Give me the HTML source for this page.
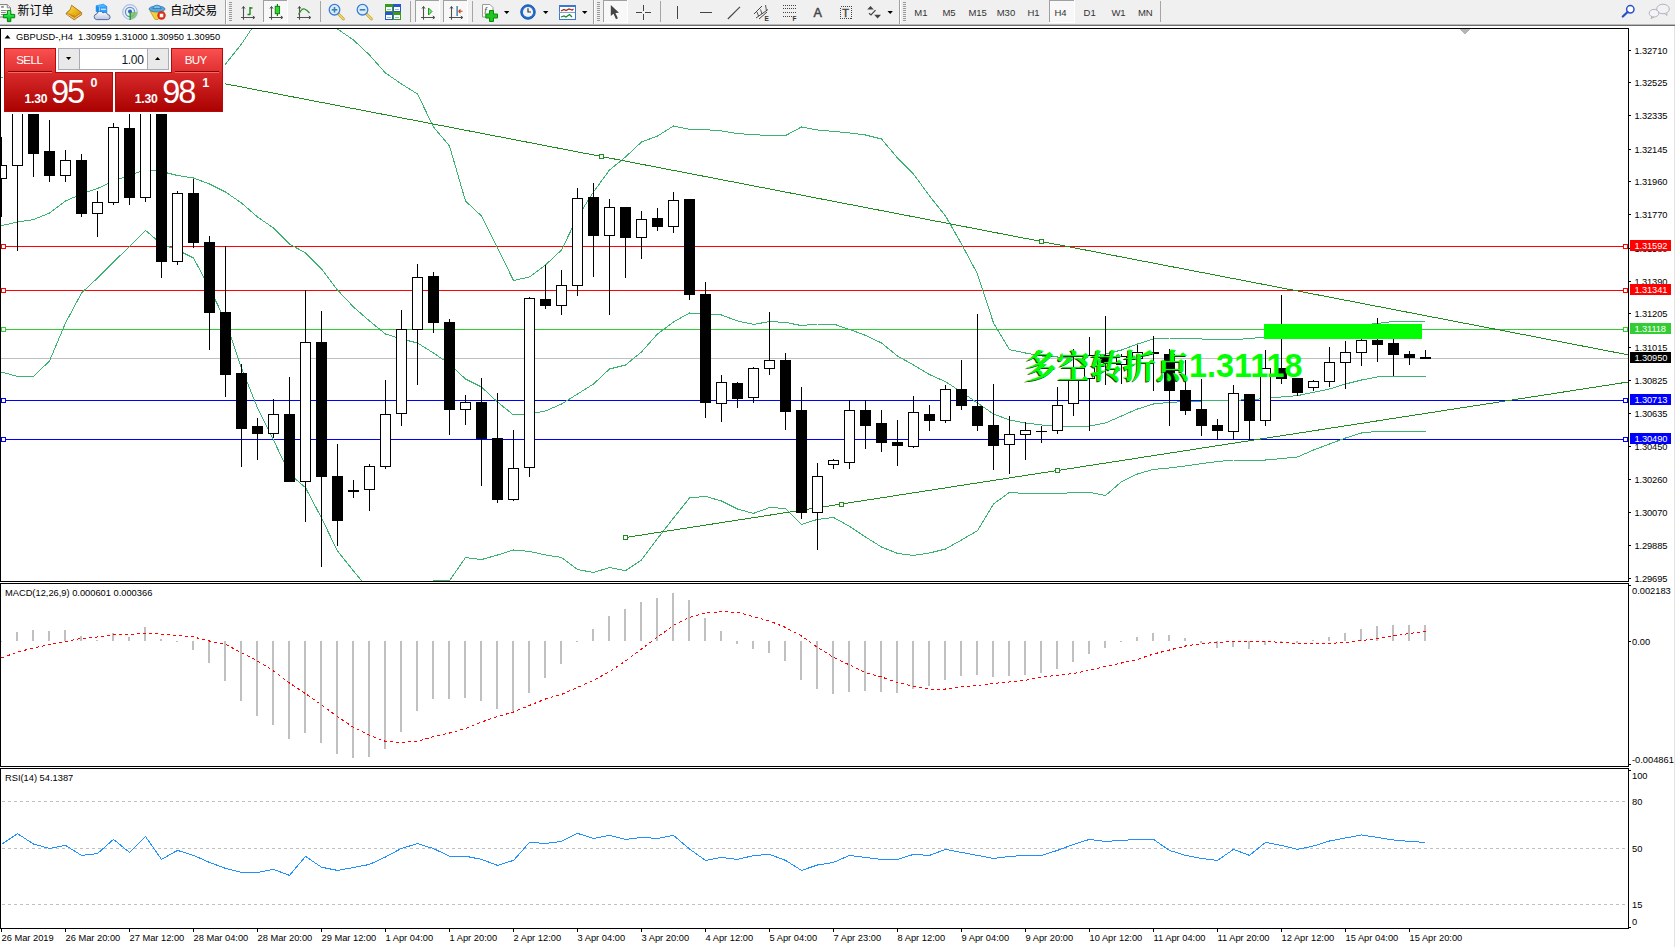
<!DOCTYPE html>
<html><head><meta charset="utf-8"><title>GBPUSD-,H4</title>
<style>
html,body{margin:0;padding:0;background:#fff;overflow:hidden}
body{width:1675px;height:947px;position:relative;font-family:'Liberation Sans','Noto Sans CJK SC',sans-serif}
svg{position:absolute;left:0;top:0;display:block}
text{font-family:'Liberation Sans','Noto Sans CJK SC',sans-serif;font-size:9.3px;fill:#000}
.pl text{letter-spacing:-0.12px}
.tag{fill:#fff}
.tf text{font-size:9.5px;fill:#333}
.cj{font-family:'Liberation Sans','Noto Sans CJK SC',sans-serif;font-size:12px;fill:#000}
</style></head><body>
<svg width="1675" height="947" viewBox="0 0 1675 947" shape-rendering="crispEdges">
<defs>
<clipPath id="cm"><rect x="1" y="29" width="1627" height="552"/></clipPath>
<clipPath id="c2"><rect x="1" y="584" width="1627" height="182"/></clipPath>
<clipPath id="c3"><rect x="1" y="769" width="1627" height="159"/></clipPath>
<linearGradient id="gt" x1="0" y1="0" x2="0" y2="1"><stop offset="0" stop-color="#fb5151"/><stop offset="1" stop-color="#de2f2f"/></linearGradient>
<linearGradient id="gb" x1="0" y1="0" x2="0" y2="1"><stop offset="0" stop-color="#da2b2b"/><stop offset="1" stop-color="#a90000"/></linearGradient>
</defs>
<rect x="0" y="0" width="1675" height="947" fill="#fff"/>

<g id="toolbar">
<rect x="0" y="0" width="1675" height="24" fill="#f0f0f0"/>
<rect x="0" y="24" width="1675" height="1" fill="#b9b9b9"/>
<rect x="0" y="25" width="1675" height="1" fill="#6d6d6d"/>
<g shape-rendering="auto">
<defs><linearGradient id="gp" x1="0" y1="0" x2="0" y2="1"><stop offset="0" stop-color="#7dff8a"/><stop offset="0.5" stop-color="#12e032"/><stop offset="1" stop-color="#0fb81f"/></linearGradient><linearGradient id="gold" x1="0" y1="0" x2="1" y2="1"><stop offset="0" stop-color="#fbe36a"/><stop offset="0.5" stop-color="#eebc1c"/><stop offset="1" stop-color="#d99a12"/></linearGradient><linearGradient id="cl" x1="0" y1="0" x2="0" y2="1"><stop offset="0" stop-color="#ffffff"/><stop offset="1" stop-color="#b9c6de"/></linearGradient></defs>
<g><path d="M-1,4.6 H7.3 L10.5,7.8 V17 H-1 Z" fill="#fdfdfd" stroke="#7a7a7a" stroke-width="1"/><path d="M7.3,4.6 V7.8 H10.5" fill="#e8e8e8" stroke="#7a7a7a" stroke-width="0.9"/>
<rect x="1.1" y="6.2" width="2.7" height="1.5" fill="#777"/><rect x="1" y="10" width="5.6" height="1" fill="#8a8a8a"/><rect x="1" y="12" width="4.8" height="1" fill="#8a8a8a"/><rect x="1" y="14" width="3" height="1" fill="#8a8a8a"/>
<path d="M7.4,10.6 H10.8 V14.4 H14.7 V17.8 H10.8 V21.6 H7.4 V17.8 H3.4 V14.4 H7.4 Z" fill="url(#gp)" stroke="#0a7d0a" stroke-width="1"/></g>
<text class="cj" x="17.6" y="14.6">新订单</text>
<g><path d="M71.6,5.3 L81.6,12.6 L81.7,14.6 L74.2,19.8 L66.3,14.2 L66.3,13 L70.2,9.6 Z" fill="#c98a14" stroke="#a46a0c" stroke-width="0.8" stroke-linejoin="round"/><path d="M71.8,6 L80.3,12.3 L75.6,16 L67.4,12.9 L70.6,9.8 Z" fill="url(#gold)"/><path d="M67,14 L74.3,18.6 L81.2,13.6" fill="none" stroke="#f3d98a" stroke-width="0.9"/></g>
<g><path d="M96.2,5.8 L103.3,4.2 L106.8,6.4 L106.8,12.6 L99.4,12.8 L96.2,11.6 Z" fill="#0f8ef2" stroke="#0a78d8" stroke-width="0.6"/><path d="M96.2,5.8 L103.3,4.2 L106.8,6.4 L99.4,7.4 Z" fill="#4db4ff"/><path d="M99.4,7.4 L106.8,6.4 L106.8,12.6 L99.4,12.8 Z" fill="#2fa2ff"/><path d="M99.4,7.4 V12.8" stroke="#d8efff" stroke-width="0.7"/><rect x="101" y="8.7" width="4.8" height="1.1" fill="#e8f6ff"/><path d="M96.4,19.6 A2.9,2.9 0 0 1 96.8,13.9 A3.4,3.4 0 0 1 103,12.9 A2.9,2.9 0 0 1 107.6,14.6 A2.5,2.5 0 0 1 107.6,19.6 Z" fill="url(#cl)" stroke="#3f5f9e" stroke-width="0.9"/></g>
<g fill="none"><circle cx="130" cy="12" r="7.3" stroke="#a8c0e8" stroke-width="1.2"/><circle cx="130" cy="12" r="4.6" stroke="#5f8fd8" stroke-width="1.3"/><path d="M130,12 L137.3,12 A7.3,7.3 0 0 1 130,19.3 Z" fill="#7dbf6a" stroke="none" opacity="0.85"/><circle cx="130" cy="11.5" r="2" fill="#2a62c8"/><rect x="129.5" y="12" width="1.4" height="8" fill="#22a022"/></g>
<g><path d="M150,11 L163.5,11 L158,19.5 L155,19.5 Z" fill="#f2cf3a" stroke="#c49a12" stroke-width="0.8"/><ellipse cx="157" cy="9" rx="8" ry="3" fill="#58a6dc" stroke="#2f78b4" stroke-width="0.8"/><path d="M152.8,8.5 A4.3,4.3 0 0 1 161.2,8.5 Z" fill="#7cc0ec" stroke="#2f78b4" stroke-width="0.8"/><circle cx="161.5" cy="15.5" r="4.2" fill="#e02810"/><rect x="159.7" y="13.7" width="3.6" height="3.6" fill="#fff"/></g>
<text class="cj" x="170.2" y="14.6" style="letter-spacing:-0.3px">自动交易</text>
<rect x="225" y="0" width="1" height="24" fill="#a0a0a0" shape-rendering="crispEdges"/><rect x="226" y="0" width="1" height="24" fill="#fff" shape-rendering="crispEdges"/>
<rect x="229" y="2" width="3" height="1" fill="#9a9a9a" shape-rendering="crispEdges"/>
<rect x="229" y="4" width="3" height="1" fill="#9a9a9a" shape-rendering="crispEdges"/>
<rect x="229" y="6" width="3" height="1" fill="#9a9a9a" shape-rendering="crispEdges"/>
<rect x="229" y="8" width="3" height="1" fill="#9a9a9a" shape-rendering="crispEdges"/>
<rect x="229" y="10" width="3" height="1" fill="#9a9a9a" shape-rendering="crispEdges"/>
<rect x="229" y="12" width="3" height="1" fill="#9a9a9a" shape-rendering="crispEdges"/>
<rect x="229" y="14" width="3" height="1" fill="#9a9a9a" shape-rendering="crispEdges"/>
<rect x="229" y="16" width="3" height="1" fill="#9a9a9a" shape-rendering="crispEdges"/>
<rect x="229" y="18" width="3" height="1" fill="#9a9a9a" shape-rendering="crispEdges"/>
<rect x="229" y="20" width="3" height="1" fill="#9a9a9a" shape-rendering="crispEdges"/>
<g fill="none" stroke="#505050" stroke-width="1.1"><path d="M243.5,19.8 V6.8 M241,17.5 H254.6"/><path d="M242,8.6 L243.5,6.4 L245,8.6 M252.8,16 L254.9,17.5 L252.8,19" stroke-width="1"/></g>
<path d="M250,7 V15 M250,8 H252.5 M247.5,14.5 H250" fill="none" stroke="#1a8a1a" stroke-width="1.4"/>
<rect x="263" y="0" width="24" height="22" fill="#f8f8f8" shape-rendering="crispEdges"/>
<rect x="263" y="0" width="24" height="1" fill="#a0a0a0" shape-rendering="crispEdges"/><rect x="263" y="0" width="1" height="22" fill="#a0a0a0" shape-rendering="crispEdges"/>
<rect x="287" y="0" width="1" height="23" fill="#fff" shape-rendering="crispEdges"/><rect x="263" y="22" width="25" height="1" fill="#fff" shape-rendering="crispEdges"/>
<g fill="none" stroke="#505050" stroke-width="1.1"><path d="M271.5,19.8 V6.8 M269,17.5 H282.6"/><path d="M270,8.6 L271.5,6.4 L273,8.6 M280.8,16 L282.9,17.5 L280.8,19" stroke-width="1"/></g>
<rect x="276.8" y="4" width="1.2" height="12" fill="#0e7a0e"/><rect x="275.2" y="6.3" width="4.4" height="7.4" fill="#32d832" stroke="#0e7a0e" stroke-width="0.9"/>
<g fill="none" stroke="#505050" stroke-width="1.1"><path d="M299.5,19.8 V6.8 M297,17.5 H310.6"/><path d="M298,8.6 L299.5,6.4 L301,8.6 M308.8,16 L310.9,17.5 L308.8,19" stroke-width="1"/></g>
<path d="M298.5,14.5 Q302,8 304.5,9 T309.5,13" fill="none" stroke="#2a8a2a" stroke-width="1.2"/>
<rect x="320" y="1" width="1" height="21" fill="#a5a5a5" shape-rendering="crispEdges"/>
<g><path d="M338.0,13.5 L343.5,19" stroke="#c8a028" stroke-width="2.6" stroke-linecap="round"/><path d="M338.0,13.5 L343.5,19" stroke="#f2dc78" stroke-width="1.1" stroke-linecap="round"/><circle cx="334.5" cy="9.7" r="5.3" fill="#dcecfa" stroke="#3c7fd0" stroke-width="1.3"/><rect x="331.7" y="9" width="5.6" height="1.6" fill="#3f80b4"/><rect x="333.7" y="7" width="1.6" height="5.6" fill="#3f80b4"/></g>
<g><path d="M366.0,13.5 L371.5,19" stroke="#c8a028" stroke-width="2.6" stroke-linecap="round"/><path d="M366.0,13.5 L371.5,19" stroke="#f2dc78" stroke-width="1.1" stroke-linecap="round"/><circle cx="362.5" cy="9.7" r="5.3" fill="#dcecfa" stroke="#3c7fd0" stroke-width="1.3"/><rect x="359.7" y="9" width="5.6" height="1.6" fill="#3f80b4"/></g>
<g shape-rendering="crispEdges"><rect x="385" y="4" width="8" height="8" fill="#3a9a1e"/><rect x="393" y="4" width="8" height="8" fill="#2858c8"/><rect x="385" y="12" width="8" height="8" fill="#2858c8"/><rect x="393" y="12" width="8" height="8" fill="#3a9a1e"/>
<rect x="386" y="7" width="6" height="4" fill="#fff"/><rect x="387" y="8.5" width="4" height="1" fill="#9ab8e8"/>
<rect x="394" y="7" width="6" height="4" fill="#fff"/><rect x="395" y="8.5" width="4" height="1" fill="#9ab8e8"/>
<rect x="386" y="15" width="6" height="4" fill="#fff"/><rect x="387" y="16.5" width="4" height="1" fill="#9ab8e8"/>
<rect x="394" y="15" width="6" height="4" fill="#fff"/><rect x="395" y="16.5" width="4" height="1" fill="#9ab8e8"/>
</g>
<rect x="410" y="1" width="1" height="21" fill="#a5a5a5" shape-rendering="crispEdges"/>
<rect x="415" y="0" width="24" height="22" fill="#f8f8f8" shape-rendering="crispEdges"/>
<rect x="415" y="0" width="24" height="1" fill="#a0a0a0" shape-rendering="crispEdges"/><rect x="415" y="0" width="1" height="22" fill="#a0a0a0" shape-rendering="crispEdges"/>
<rect x="439" y="0" width="1" height="23" fill="#fff" shape-rendering="crispEdges"/><rect x="415" y="22" width="25" height="1" fill="#fff" shape-rendering="crispEdges"/>
<g fill="none" stroke="#505050" stroke-width="1.1"><path d="M423.5,19.8 V6.8 M421,17.5 H434.6"/><path d="M422,8.6 L423.5,6.4 L425,8.6 M432.8,16 L434.9,17.5 L432.8,19" stroke-width="1"/></g>
<path d="M428.5,8 L432,11.5 L428.5,15 Z" fill="#7fe07f" stroke="#1a9a1a" stroke-width="1"/>
<rect x="443" y="0" width="24" height="22" fill="#f8f8f8" shape-rendering="crispEdges"/>
<rect x="443" y="0" width="24" height="1" fill="#a0a0a0" shape-rendering="crispEdges"/><rect x="443" y="0" width="1" height="22" fill="#a0a0a0" shape-rendering="crispEdges"/>
<rect x="467" y="0" width="1" height="23" fill="#fff" shape-rendering="crispEdges"/><rect x="443" y="22" width="25" height="1" fill="#fff" shape-rendering="crispEdges"/>
<g fill="none" stroke="#505050" stroke-width="1.1"><path d="M451.5,19.8 V6.8 M449,17.5 H462.6"/><path d="M450,8.6 L451.5,6.4 L453,8.6 M460.8,16 L462.9,17.5 L460.8,19" stroke-width="1"/></g>
<rect x="456.5" y="6" width="1.2" height="10" fill="#1a6a9a"/><path d="M458.5,11.3 L462.5,11.3 M458.5,11.3 L460.5,9.5 M458.5,11.3 L460.5,13.1" stroke="#c83c10" stroke-width="1.1" fill="none"/>
<rect x="472" y="1" width="1" height="21" fill="#a5a5a5" shape-rendering="crispEdges"/>
<g><path d="M482.5,4.5 H490 L493,7.5 V17 H482.5 Z" fill="#fcfcfc" stroke="#9a9a9a" stroke-width="1"/><text x="484.2" y="13.5" style="font-size:9px;font-style:italic;fill:#554">f</text><path d="M489.5,10.5 H493.5 V14 H497.5 V18 H493.5 V21.5 H489.5 V18 H485.8 V14 H489.5 Z" fill="#1ec71e" stroke="#0a8a0a" stroke-width="1"/></g>
<path d="M504,11 h5.4 l-2.7,3 z" fill="#000"/>
<g><circle cx="528" cy="12" r="7.3" fill="#1f6fd0" stroke="#0d4a9a" stroke-width="0.8"/><circle cx="528" cy="12" r="5.1" fill="#f4f4f4"/><path d="M528,8.2 V12 H531" fill="none" stroke="#333" stroke-width="1.2"/></g>
<path d="M543,11 h5.4 l-2.7,3 z" fill="#000"/>
<g shape-rendering="crispEdges"><rect x="559" y="5" width="16" height="14" fill="#fff" stroke="#3b78d0" stroke-width="1"/><rect x="559" y="5" width="16" height="2" fill="#3b78d0"/><rect x="559" y="12" width="16" height="1" fill="#7aa0dc"/></g><path d="M561,11 L564,9.5 L566,10.5 L569,9 L572,10 L573.5,9" fill="none" stroke="#a02810" stroke-width="1.3"/><path d="M561,17 L564,16 L566,17 L569.5,14.5 L572,17" fill="none" stroke="#1a8a2a" stroke-width="1.3"/>
<path d="M582,11 h5.4 l-2.7,3 z" fill="#000"/>
<rect x="593" y="0" width="1" height="24" fill="#a0a0a0" shape-rendering="crispEdges"/><rect x="594" y="0" width="1" height="24" fill="#fff" shape-rendering="crispEdges"/>
<rect x="597" y="2" width="3" height="1" fill="#9a9a9a" shape-rendering="crispEdges"/>
<rect x="597" y="4" width="3" height="1" fill="#9a9a9a" shape-rendering="crispEdges"/>
<rect x="597" y="6" width="3" height="1" fill="#9a9a9a" shape-rendering="crispEdges"/>
<rect x="597" y="8" width="3" height="1" fill="#9a9a9a" shape-rendering="crispEdges"/>
<rect x="597" y="10" width="3" height="1" fill="#9a9a9a" shape-rendering="crispEdges"/>
<rect x="597" y="12" width="3" height="1" fill="#9a9a9a" shape-rendering="crispEdges"/>
<rect x="597" y="14" width="3" height="1" fill="#9a9a9a" shape-rendering="crispEdges"/>
<rect x="597" y="16" width="3" height="1" fill="#9a9a9a" shape-rendering="crispEdges"/>
<rect x="597" y="18" width="3" height="1" fill="#9a9a9a" shape-rendering="crispEdges"/>
<rect x="597" y="20" width="3" height="1" fill="#9a9a9a" shape-rendering="crispEdges"/>
<rect x="603" y="0" width="24" height="22" fill="#f8f8f8" shape-rendering="crispEdges"/>
<rect x="603" y="0" width="24" height="1" fill="#a0a0a0" shape-rendering="crispEdges"/><rect x="603" y="0" width="1" height="22" fill="#a0a0a0" shape-rendering="crispEdges"/>
<rect x="627" y="0" width="1" height="23" fill="#fff" shape-rendering="crispEdges"/><rect x="603" y="22" width="25" height="1" fill="#fff" shape-rendering="crispEdges"/>
<path d="M610.8,5 L610.8,16 L613.5,13.8 L616,19.2 L617.9,18.3 L615.4,13 L619,12.7 Z" fill="#444"/>
<g shape-rendering="crispEdges" fill="#444"><rect x="643" y="5" width="1" height="6"/><rect x="643" y="14" width="1" height="6"/><rect x="636" y="12" width="6" height="1"/><rect x="645" y="12" width="6" height="1"/></g>
<rect x="660" y="1" width="1" height="21" fill="#a5a5a5" shape-rendering="crispEdges"/>
<rect x="677" y="6" width="1" height="13" fill="#444" shape-rendering="crispEdges"/>
<rect x="700" y="12" width="12" height="1" fill="#444" shape-rendering="crispEdges"/>
<path d="M727.8,19 L740,6.8" stroke="#444" stroke-width="1.1"/>
<g stroke="#444" stroke-width="1" fill="none"><path d="M754,14 L762,6 M756,18 L768,9.5 M759,19 L767,12"/><path d="M757,12 L758.5,16 M760.5,9.5 L762,14 M765.5,5 L766.5,11" stroke-width="0.9"/></g><text x="764.6" y="20.6" style="font-size:6.5px;font-weight:bold;fill:#333">E</text>
<line x1="783" y1="5.5" x2="796" y2="5.5" stroke="#444" stroke-width="1" stroke-dasharray="1,1" shape-rendering="crispEdges"/>
<line x1="783" y1="8.5" x2="796" y2="8.5" stroke="#444" stroke-width="1" stroke-dasharray="1,1" shape-rendering="crispEdges"/>
<line x1="783" y1="12.5" x2="796" y2="12.5" stroke="#444" stroke-width="1" stroke-dasharray="1,1" shape-rendering="crispEdges"/>
<line x1="783" y1="16.5" x2="792" y2="16.5" stroke="#444" stroke-width="1" stroke-dasharray="1,1" shape-rendering="crispEdges"/>
<text x="792.6" y="20.6" style="font-size:6.5px;font-weight:bold;fill:#333">F</text>
<text x="813.4" y="17" style="font-size:12.6px;fill:#444;stroke:#444;stroke-width:0.45px">A</text>
<rect x="840.5" y="6.5" width="11" height="12" fill="none" stroke="#444" stroke-width="1" stroke-dasharray="1,1" shape-rendering="crispEdges"/><text x="842.3" y="16.6" style="font-size:11px;fill:#444;stroke:#444;stroke-width:0.4px">T</text>
<g fill="#444"><path d="M867.2,9.5 L870.5,6 L873.8,9.5 Z"/><path d="M874.2,14.8 L881,14.8 L877.6,18.5 Z"/><path d="M869,13.2 L871,15 L875.5,10.2" fill="none" stroke="#444" stroke-width="1.2"/></g>
<path d="M887.5,11 h5.4 l-2.7,3 z" fill="#000"/>
<rect x="899" y="0" width="1" height="24" fill="#a0a0a0" shape-rendering="crispEdges"/><rect x="900" y="0" width="1" height="24" fill="#fff" shape-rendering="crispEdges"/>
<rect x="903" y="2" width="3" height="1" fill="#9a9a9a" shape-rendering="crispEdges"/>
<rect x="903" y="4" width="3" height="1" fill="#9a9a9a" shape-rendering="crispEdges"/>
<rect x="903" y="6" width="3" height="1" fill="#9a9a9a" shape-rendering="crispEdges"/>
<rect x="903" y="8" width="3" height="1" fill="#9a9a9a" shape-rendering="crispEdges"/>
<rect x="903" y="10" width="3" height="1" fill="#9a9a9a" shape-rendering="crispEdges"/>
<rect x="903" y="12" width="3" height="1" fill="#9a9a9a" shape-rendering="crispEdges"/>
<rect x="903" y="14" width="3" height="1" fill="#9a9a9a" shape-rendering="crispEdges"/>
<rect x="903" y="16" width="3" height="1" fill="#9a9a9a" shape-rendering="crispEdges"/>
<rect x="903" y="18" width="3" height="1" fill="#9a9a9a" shape-rendering="crispEdges"/>
<rect x="903" y="20" width="3" height="1" fill="#9a9a9a" shape-rendering="crispEdges"/>
<g class="tf">
<rect x="1049" y="0" width="25" height="22" fill="#f8f8f8" shape-rendering="crispEdges"/>
<rect x="1049" y="0" width="25" height="1" fill="#a0a0a0" shape-rendering="crispEdges"/><rect x="1049" y="0" width="1" height="22" fill="#a0a0a0" shape-rendering="crispEdges"/>
<rect x="1074" y="0" width="1" height="23" fill="#fff" shape-rendering="crispEdges"/><rect x="1049" y="22" width="26" height="1" fill="#fff" shape-rendering="crispEdges"/>
<text x="914.3" y="16">M1</text>
<text x="942.4" y="16">M5</text>
<text x="968.4" y="16">M15</text>
<text x="996.7" y="16">M30</text>
<text x="1027.5" y="16">H1</text>
<text x="1054.4" y="16">H4</text>
<text x="1083.6" y="16">D1</text>
<text x="1111.4" y="16">W1</text>
<text x="1137.9" y="16">MN</text>
</g>
<rect x="1160" y="1" width="1" height="21" fill="#a5a5a5" shape-rendering="crispEdges"/>
<g><circle cx="1630.3" cy="9.3" r="3.7" fill="#fff" stroke="#2a50c8" stroke-width="1.5"/><path d="M1627.6,12 L1622.8,16.5" stroke="#2a50c8" stroke-width="2.3" stroke-linecap="round"/></g>
<g><ellipse cx="1663" cy="9" rx="6.3" ry="4.8" fill="#f2f2f6" stroke="#aaaab4" stroke-width="0.9"/><path d="M1664.5,13.2 L1666.8,15.6 L1667,13" fill="#ddd" stroke="#999" stroke-width="0.6"/><ellipse cx="1654" cy="13.2" rx="4.8" ry="3.8" fill="#f4f4f8" stroke="#aaaab4" stroke-width="0.9"/><path d="M1652,16.5 L1651,18.8 L1654,16.9" fill="#ddd" stroke="#999" stroke-width="0.6"/></g>
</g>
</g>
<g id="main">
<g clip-path="url(#cm)" fill="none">
<rect x="1" y="246" width="1627" height="1" fill="#ff0000"/>
<rect x="1" y="290" width="1627" height="1" fill="#ff0000"/>
<rect x="1" y="329" width="1627" height="1" fill="#32cd32"/>
<rect x="1" y="358" width="1627" height="1" fill="#c0c0c0"/>
<rect x="1" y="400" width="1627" height="1" fill="#0000ff"/>
<rect x="1" y="439" width="1627" height="1" fill="#0000ff"/>
<rect x="1.5" y="244.5" width="4" height="4" fill="#fff" stroke="#ff0000" stroke-width="1"/>
<rect x="1.5" y="288.5" width="4" height="4" fill="#fff" stroke="#ff0000" stroke-width="1"/>
<rect x="1.5" y="327.5" width="4" height="4" fill="#fff" stroke="#32cd32" stroke-width="1"/>
<rect x="1.5" y="398.5" width="4" height="4" fill="#fff" stroke="#0000ff" stroke-width="1"/>
<rect x="1.5" y="437.5" width="4" height="4" fill="#fff" stroke="#0000ff" stroke-width="1"/>
<polyline points="1.5,78.0 17.5,68.0 33.5,63.0 49.5,65.0 65.5,79.0 81.5,95.0 97.5,99.0 113.5,100.0 129.5,104.0 145.5,108.0 161.5,99.0 177.5,101.0 193.5,98.0 209.5,80.0 225.5,64.0 241.5,44.0 257.5,20.0 273.5,0.0 289.5,-10.0 305.5,-10.0 321.5,0.0 337.5,29.0 353.5,40.0 369.5,55.0 385.5,73.0 401.5,84.0 417.5,94.0 433.5,127.0 449.5,146.0 465.5,201.0 481.5,216.0 497.5,248.0 513.5,280.5 529.5,277.0 545.5,265.0 561.5,250.0 577.5,217.0 593.5,192.0 609.5,170.0 625.5,157.0 641.5,142.0 657.5,136.0 673.5,126.0 689.5,129.4 705.5,129.6 721.5,131.0 737.5,133.6 753.5,134.6 769.5,135.6 785.5,135.6 801.5,127.0 817.5,130.0 833.5,131.4 849.5,133.0 865.5,135.0 881.5,139.0 897.5,158.0 913.5,174.0 929.5,196.0 945.5,216.0 961.5,244.0 977.5,274.0 993.5,323.0 1009.5,349.6 1025.5,353.0 1041.5,356.0 1057.5,357.0 1073.5,357.0 1089.5,356.0 1105.5,354.0 1121.5,350.0 1137.5,344.0 1153.5,339.0 1169.5,338.0 1185.5,338.0 1201.5,339.0 1217.5,340.0 1233.5,339.6 1249.5,338.6 1265.5,337.0 1281.5,335.0 1297.5,333.0 1313.5,331.0 1329.5,329.0 1345.5,327.0 1361.5,325.0 1377.5,323.5 1393.5,321.4 1409.5,322.0 1425.5,321.0" stroke="#3cb371" stroke-width="1" fill="none" />
<polyline points="1.5,225.6 17.5,222.0 33.5,219.6 49.5,213.0 65.5,201.0 81.5,194.0 97.5,188.5 113.5,181.0 129.5,175.5 145.5,169.5 161.5,171.5 177.5,175.5 193.5,178.0 209.5,184.0 225.5,192.0 241.5,203.0 257.5,217.0 273.5,228.0 289.5,244.0 305.5,253.0 321.5,269.0 337.5,290.0 353.5,307.0 369.5,321.0 385.5,334.0 401.5,339.0 417.5,343.0 433.5,353.0 449.5,364.0 465.5,379.0 481.5,387.0 497.5,402.0 513.5,415.0 529.5,414.0 545.5,411.0 561.5,404.0 577.5,394.0 593.5,384.0 609.5,369.0 625.5,365.0 641.5,352.0 657.5,334.0 673.5,322.0 689.5,313.0 705.5,313.6 721.5,315.0 737.5,321.0 753.5,324.4 769.5,321.6 785.5,322.4 801.5,325.6 817.5,324.0 833.5,324.0 849.5,329.4 865.5,335.4 881.5,343.0 897.5,356.0 913.5,365.0 929.5,374.6 945.5,381.6 961.5,392.0 977.5,403.0 993.5,414.0 1009.5,420.0 1025.5,423.0 1041.5,425.0 1057.5,426.0 1073.5,426.4 1089.5,426.0 1105.5,423.0 1121.5,416.0 1137.5,409.0 1153.5,404.0 1169.5,402.4 1185.5,401.6 1201.5,401.0 1217.5,400.8 1233.5,400.4 1249.5,399.6 1265.5,398.6 1281.5,397.0 1297.5,395.6 1313.5,392.4 1329.5,389.0 1345.5,384.0 1361.5,380.0 1377.5,377.0 1393.5,376.2 1409.5,376.2 1425.5,376.2" stroke="#3cb371" stroke-width="1" fill="none" />
<polyline points="1.5,372.0 17.5,376.4 33.5,376.4 49.5,361.0 65.5,323.0 81.5,293.0 97.5,278.0 113.5,262.0 129.5,246.5 145.5,230.4 161.5,244.0 177.5,250.0 193.5,258.0 209.5,288.0 225.5,321.0 241.5,368.0 257.5,408.0 273.5,440.0 289.5,474.0 305.5,487.6 321.5,518.0 337.5,551.0 353.5,571.0 369.5,590.0 385.5,600.0 401.5,605.0 417.5,600.0 433.5,580.8 449.5,580.6 465.5,557.6 481.5,559.6 497.5,555.0 513.5,550.0 529.5,551.4 545.5,555.0 561.5,557.4 577.5,569.6 593.5,572.4 609.5,567.6 625.5,570.6 641.5,560.0 657.5,538.6 673.5,518.0 689.5,498.0 705.5,496.4 721.5,501.0 737.5,509.0 753.5,513.4 769.5,507.6 785.5,508.4 801.5,524.4 817.5,519.4 833.5,517.4 849.5,526.4 865.5,537.0 881.5,547.0 897.5,553.4 913.5,555.4 929.5,553.0 945.5,549.0 961.5,540.0 977.5,530.6 993.5,504.0 1009.5,492.4 1025.5,493.6 1041.5,493.6 1057.5,493.6 1073.5,492.6 1089.5,492.4 1105.5,495.6 1121.5,481.6 1137.5,474.0 1153.5,469.4 1169.5,468.0 1185.5,466.0 1201.5,463.6 1217.5,461.6 1233.5,460.0 1249.5,460.0 1265.5,460.0 1281.5,458.6 1297.5,457.0 1313.5,450.0 1329.5,444.0 1345.5,438.0 1361.5,433.0 1377.5,431.4 1393.5,431.4 1409.5,431.4 1425.5,431.4" stroke="#3cb371" stroke-width="1" fill="none" />
<line x1="162" y1="71.6" x2="1628" y2="354.8" stroke="#228b22" stroke-width="1"/>
<line x1="625.5" y1="537.5" x2="1628" y2="382.0" stroke="#228b22" stroke-width="1"/>
<rect x="599.5" y="154.5" width="4" height="4" fill="#fff" stroke="#228b22" stroke-width="1"/>
<rect x="1039.5" y="239.5" width="4" height="4" fill="#fff" stroke="#228b22" stroke-width="1"/>
<rect x="623.5" y="535.5" width="4" height="4" fill="#fff" stroke="#228b22" stroke-width="1"/>
<rect x="839.5" y="502.5" width="4" height="4" fill="#fff" stroke="#228b22" stroke-width="1"/>
<rect x="1055.5" y="468.5" width="4" height="4" fill="#fff" stroke="#228b22" stroke-width="1"/>
</g>
<g clip-path="url(#cm)">
<rect x="1" y="137" width="1" height="80" fill="#000"/>
<rect x="-4" y="165" width="11" height="14" fill="#000"/>
<rect x="-3" y="166" width="9" height="12" fill="#fff"/>
<rect x="17" y="100" width="1" height="151" fill="#000"/>
<rect x="12" y="100" width="11" height="66" fill="#000"/>
<rect x="13" y="101" width="9" height="64" fill="#fff"/>
<rect x="33" y="100" width="1" height="77" fill="#000"/>
<rect x="28" y="100" width="11" height="54" fill="#000"/>
<rect x="49" y="120" width="1" height="62" fill="#000"/>
<rect x="44" y="151" width="11" height="25" fill="#000"/>
<rect x="65" y="150" width="1" height="32" fill="#000"/>
<rect x="60" y="160" width="11" height="16" fill="#000"/>
<rect x="61" y="161" width="9" height="14" fill="#fff"/>
<rect x="81" y="154" width="1" height="63" fill="#000"/>
<rect x="76" y="160" width="11" height="54" fill="#000"/>
<rect x="97" y="191" width="1" height="46" fill="#000"/>
<rect x="92" y="202" width="11" height="12" fill="#000"/>
<rect x="93" y="203" width="9" height="10" fill="#fff"/>
<rect x="113" y="123" width="1" height="82" fill="#000"/>
<rect x="108" y="127" width="11" height="76" fill="#000"/>
<rect x="109" y="128" width="9" height="74" fill="#fff"/>
<rect x="129" y="100" width="1" height="105" fill="#000"/>
<rect x="124" y="128" width="11" height="70" fill="#000"/>
<rect x="145" y="100" width="1" height="102" fill="#000"/>
<rect x="140" y="100" width="11" height="98" fill="#000"/>
<rect x="141" y="101" width="9" height="96" fill="#fff"/>
<rect x="161" y="100" width="1" height="178" fill="#000"/>
<rect x="156" y="100" width="11" height="162" fill="#000"/>
<rect x="177" y="191" width="1" height="74" fill="#000"/>
<rect x="172" y="193" width="11" height="69" fill="#000"/>
<rect x="173" y="194" width="9" height="67" fill="#fff"/>
<rect x="193" y="179" width="1" height="69" fill="#000"/>
<rect x="188" y="193" width="11" height="50" fill="#000"/>
<rect x="209" y="236" width="1" height="114" fill="#000"/>
<rect x="204" y="242" width="11" height="71" fill="#000"/>
<rect x="225" y="246" width="1" height="151" fill="#000"/>
<rect x="220" y="312" width="11" height="63" fill="#000"/>
<rect x="241" y="364" width="1" height="103" fill="#000"/>
<rect x="236" y="373" width="11" height="56" fill="#000"/>
<rect x="257" y="418" width="1" height="42" fill="#000"/>
<rect x="252" y="426" width="11" height="8" fill="#000"/>
<rect x="273" y="399" width="1" height="39" fill="#000"/>
<rect x="268" y="414" width="11" height="20" fill="#000"/>
<rect x="269" y="415" width="9" height="18" fill="#fff"/>
<rect x="289" y="377" width="1" height="105" fill="#000"/>
<rect x="284" y="414" width="11" height="68" fill="#000"/>
<rect x="305" y="290" width="1" height="232" fill="#000"/>
<rect x="300" y="342" width="11" height="140" fill="#000"/>
<rect x="301" y="343" width="9" height="138" fill="#fff"/>
<rect x="321" y="311" width="1" height="256" fill="#000"/>
<rect x="316" y="342" width="11" height="135" fill="#000"/>
<rect x="337" y="444" width="1" height="102" fill="#000"/>
<rect x="332" y="476" width="11" height="45" fill="#000"/>
<rect x="353" y="480" width="1" height="18" fill="#000"/>
<rect x="348" y="490" width="11" height="2" fill="#000"/>
<rect x="369" y="464" width="1" height="47" fill="#000"/>
<rect x="364" y="466" width="11" height="24" fill="#000"/>
<rect x="365" y="467" width="9" height="22" fill="#fff"/>
<rect x="385" y="380" width="1" height="89" fill="#000"/>
<rect x="380" y="414" width="11" height="53" fill="#000"/>
<rect x="381" y="415" width="9" height="51" fill="#fff"/>
<rect x="401" y="310" width="1" height="116" fill="#000"/>
<rect x="396" y="329" width="11" height="85" fill="#000"/>
<rect x="397" y="330" width="9" height="83" fill="#fff"/>
<rect x="417" y="264" width="1" height="121" fill="#000"/>
<rect x="412" y="277" width="11" height="53" fill="#000"/>
<rect x="413" y="278" width="9" height="51" fill="#fff"/>
<rect x="433" y="272" width="1" height="61" fill="#000"/>
<rect x="428" y="276" width="11" height="47" fill="#000"/>
<rect x="449" y="319" width="1" height="116" fill="#000"/>
<rect x="444" y="322" width="11" height="88" fill="#000"/>
<rect x="465" y="395" width="1" height="30" fill="#000"/>
<rect x="460" y="402" width="11" height="8" fill="#000"/>
<rect x="461" y="403" width="9" height="6" fill="#fff"/>
<rect x="481" y="378" width="1" height="108" fill="#000"/>
<rect x="476" y="402" width="11" height="37" fill="#000"/>
<rect x="497" y="393" width="1" height="110" fill="#000"/>
<rect x="492" y="438" width="11" height="62" fill="#000"/>
<rect x="513" y="430" width="1" height="71" fill="#000"/>
<rect x="508" y="468" width="11" height="32" fill="#000"/>
<rect x="509" y="469" width="9" height="30" fill="#fff"/>
<rect x="529" y="297" width="1" height="180" fill="#000"/>
<rect x="524" y="298" width="11" height="170" fill="#000"/>
<rect x="525" y="299" width="9" height="168" fill="#fff"/>
<rect x="545" y="265" width="1" height="44" fill="#000"/>
<rect x="540" y="299" width="11" height="7" fill="#000"/>
<rect x="561" y="270" width="1" height="45" fill="#000"/>
<rect x="556" y="285" width="11" height="21" fill="#000"/>
<rect x="557" y="286" width="9" height="19" fill="#fff"/>
<rect x="577" y="188" width="1" height="108" fill="#000"/>
<rect x="572" y="198" width="11" height="88" fill="#000"/>
<rect x="573" y="199" width="9" height="86" fill="#fff"/>
<rect x="593" y="183" width="1" height="94" fill="#000"/>
<rect x="588" y="197" width="11" height="39" fill="#000"/>
<rect x="609" y="199" width="1" height="116" fill="#000"/>
<rect x="604" y="207" width="11" height="29" fill="#000"/>
<rect x="605" y="208" width="9" height="27" fill="#fff"/>
<rect x="625" y="207" width="1" height="71" fill="#000"/>
<rect x="620" y="207" width="11" height="31" fill="#000"/>
<rect x="641" y="211" width="1" height="48" fill="#000"/>
<rect x="636" y="219" width="11" height="19" fill="#000"/>
<rect x="637" y="220" width="9" height="17" fill="#fff"/>
<rect x="657" y="208" width="1" height="23" fill="#000"/>
<rect x="652" y="218" width="11" height="9" fill="#000"/>
<rect x="673" y="192" width="1" height="41" fill="#000"/>
<rect x="668" y="200" width="11" height="27" fill="#000"/>
<rect x="669" y="201" width="9" height="25" fill="#fff"/>
<rect x="689" y="199" width="1" height="101" fill="#000"/>
<rect x="684" y="199" width="11" height="96" fill="#000"/>
<rect x="705" y="282" width="1" height="136" fill="#000"/>
<rect x="700" y="294" width="11" height="109" fill="#000"/>
<rect x="721" y="375" width="1" height="47" fill="#000"/>
<rect x="716" y="382" width="11" height="22" fill="#000"/>
<rect x="717" y="383" width="9" height="20" fill="#fff"/>
<rect x="737" y="382" width="1" height="26" fill="#000"/>
<rect x="732" y="383" width="11" height="16" fill="#000"/>
<rect x="753" y="367" width="1" height="36" fill="#000"/>
<rect x="748" y="368" width="11" height="30" fill="#000"/>
<rect x="749" y="369" width="9" height="28" fill="#fff"/>
<rect x="769" y="312" width="1" height="63" fill="#000"/>
<rect x="764" y="360" width="11" height="9" fill="#000"/>
<rect x="765" y="361" width="9" height="7" fill="#fff"/>
<rect x="785" y="353" width="1" height="77" fill="#000"/>
<rect x="780" y="360" width="11" height="52" fill="#000"/>
<rect x="801" y="387" width="1" height="132" fill="#000"/>
<rect x="796" y="410" width="11" height="103" fill="#000"/>
<rect x="817" y="463" width="1" height="87" fill="#000"/>
<rect x="812" y="476" width="11" height="37" fill="#000"/>
<rect x="813" y="477" width="9" height="35" fill="#fff"/>
<rect x="833" y="459" width="1" height="10" fill="#000"/>
<rect x="828" y="460" width="11" height="5" fill="#000"/>
<rect x="829" y="461" width="9" height="3" fill="#fff"/>
<rect x="849" y="400" width="1" height="69" fill="#000"/>
<rect x="844" y="410" width="11" height="53" fill="#000"/>
<rect x="845" y="411" width="9" height="51" fill="#fff"/>
<rect x="865" y="400" width="1" height="49" fill="#000"/>
<rect x="860" y="410" width="11" height="16" fill="#000"/>
<rect x="881" y="410" width="1" height="42" fill="#000"/>
<rect x="876" y="423" width="11" height="20" fill="#000"/>
<rect x="897" y="420" width="1" height="46" fill="#000"/>
<rect x="892" y="442" width="11" height="4" fill="#000"/>
<rect x="913" y="396" width="1" height="52" fill="#000"/>
<rect x="908" y="412" width="11" height="35" fill="#000"/>
<rect x="909" y="413" width="9" height="33" fill="#fff"/>
<rect x="929" y="405" width="1" height="26" fill="#000"/>
<rect x="924" y="414" width="11" height="7" fill="#000"/>
<rect x="945" y="385" width="1" height="38" fill="#000"/>
<rect x="940" y="389" width="11" height="32" fill="#000"/>
<rect x="941" y="390" width="9" height="30" fill="#fff"/>
<rect x="961" y="360" width="1" height="50" fill="#000"/>
<rect x="956" y="389" width="11" height="17" fill="#000"/>
<rect x="977" y="314" width="1" height="117" fill="#000"/>
<rect x="972" y="406" width="11" height="20" fill="#000"/>
<rect x="993" y="384" width="1" height="86" fill="#000"/>
<rect x="988" y="425" width="11" height="21" fill="#000"/>
<rect x="1009" y="416" width="1" height="58" fill="#000"/>
<rect x="1004" y="434" width="11" height="11" fill="#000"/>
<rect x="1005" y="435" width="9" height="9" fill="#fff"/>
<rect x="1025" y="422" width="1" height="38" fill="#000"/>
<rect x="1020" y="430" width="11" height="5" fill="#000"/>
<rect x="1021" y="431" width="9" height="3" fill="#fff"/>
<rect x="1041" y="426" width="1" height="17" fill="#000"/>
<rect x="1036" y="431" width="11" height="1" fill="#000"/>
<rect x="1057" y="387" width="1" height="47" fill="#000"/>
<rect x="1052" y="405" width="11" height="26" fill="#000"/>
<rect x="1053" y="406" width="9" height="24" fill="#fff"/>
<rect x="1073" y="349" width="1" height="67" fill="#000"/>
<rect x="1068" y="379" width="11" height="25" fill="#000"/>
<rect x="1069" y="380" width="9" height="23" fill="#fff"/>
<rect x="1089" y="337" width="1" height="94" fill="#000"/>
<rect x="1084" y="355" width="11" height="24" fill="#000"/>
<rect x="1085" y="356" width="9" height="22" fill="#fff"/>
<rect x="1105" y="316" width="1" height="69" fill="#000"/>
<rect x="1100" y="355" width="11" height="8" fill="#000"/>
<rect x="1121" y="354" width="1" height="30" fill="#000"/>
<rect x="1116" y="356" width="11" height="9" fill="#000"/>
<rect x="1117" y="357" width="9" height="7" fill="#fff"/>
<rect x="1137" y="345" width="1" height="22" fill="#000"/>
<rect x="1132" y="352" width="11" height="7" fill="#000"/>
<rect x="1133" y="353" width="9" height="5" fill="#fff"/>
<rect x="1153" y="336" width="1" height="55" fill="#000"/>
<rect x="1148" y="352" width="11" height="2" fill="#000"/>
<rect x="1169" y="349" width="1" height="77" fill="#000"/>
<rect x="1164" y="354" width="11" height="37" fill="#000"/>
<rect x="1185" y="360" width="1" height="55" fill="#000"/>
<rect x="1180" y="390" width="11" height="21" fill="#000"/>
<rect x="1201" y="379" width="1" height="57" fill="#000"/>
<rect x="1196" y="409" width="11" height="17" fill="#000"/>
<rect x="1217" y="419" width="1" height="21" fill="#000"/>
<rect x="1212" y="425" width="11" height="6" fill="#000"/>
<rect x="1233" y="385" width="1" height="54" fill="#000"/>
<rect x="1228" y="393" width="11" height="39" fill="#000"/>
<rect x="1229" y="394" width="9" height="37" fill="#fff"/>
<rect x="1249" y="394" width="1" height="46" fill="#000"/>
<rect x="1244" y="394" width="11" height="27" fill="#000"/>
<rect x="1265" y="350" width="1" height="76" fill="#000"/>
<rect x="1260" y="368" width="11" height="53" fill="#000"/>
<rect x="1261" y="369" width="9" height="51" fill="#fff"/>
<rect x="1281" y="295" width="1" height="89" fill="#000"/>
<rect x="1276" y="368" width="11" height="11" fill="#000"/>
<rect x="1297" y="378" width="1" height="18" fill="#000"/>
<rect x="1292" y="378" width="11" height="15" fill="#000"/>
<rect x="1313" y="380" width="1" height="11" fill="#000"/>
<rect x="1308" y="381" width="11" height="7" fill="#000"/>
<rect x="1309" y="382" width="9" height="5" fill="#fff"/>
<rect x="1329" y="347" width="1" height="40" fill="#000"/>
<rect x="1324" y="362" width="11" height="20" fill="#000"/>
<rect x="1325" y="363" width="9" height="18" fill="#fff"/>
<rect x="1345" y="341" width="1" height="48" fill="#000"/>
<rect x="1340" y="352" width="11" height="11" fill="#000"/>
<rect x="1341" y="353" width="9" height="9" fill="#fff"/>
<rect x="1361" y="338" width="1" height="28" fill="#000"/>
<rect x="1356" y="340" width="11" height="13" fill="#000"/>
<rect x="1357" y="341" width="9" height="11" fill="#fff"/>
<rect x="1377" y="318" width="1" height="44" fill="#000"/>
<rect x="1372" y="340" width="11" height="5" fill="#000"/>
<rect x="1393" y="339" width="1" height="37" fill="#000"/>
<rect x="1388" y="343" width="11" height="12" fill="#000"/>
<rect x="1409" y="351" width="1" height="14" fill="#000"/>
<rect x="1404" y="354" width="11" height="4" fill="#000"/>
<rect x="1425" y="350" width="1" height="9" fill="#000"/>
<rect x="1420" y="357" width="11" height="2" fill="#000"/>
</g>
<rect x="1264" y="324" width="158" height="15" fill="#00ff00"/>
<text x="1023.1" y="378.9" style="font-family:'Liberation Sans','Noto Serif CJK SC',serif;font-size:33px;font-weight:bold;fill:#0c3f0c" shape-rendering="auto">多空转折点</text>
<text x="1024" y="378" style="font-family:'Liberation Sans','Noto Serif CJK SC',serif;font-size:33px;font-weight:bold;fill:#00ff00" shape-rendering="auto">多空转折点<tspan style="font-size:32.4px" dy="-0.6">1.31118</tspan></text>
<path d="M1459,29 L1470,29 L1464.5,34.5 Z" fill="#b4b4b4"/>
<rect x="0" y="28" width="1629" height="1" fill="#000"/>
<rect x="0" y="28" width="1" height="901" fill="#000"/>
<rect x="1628" y="28" width="1" height="901" fill="#000"/>
<rect x="0" y="581" width="1629" height="1" fill="#000"/>
<rect x="0" y="583" width="1629" height="1" fill="#000"/>
<rect x="0" y="766" width="1629" height="1" fill="#000"/>
<rect x="0" y="768" width="1629" height="1" fill="#000"/>
<rect x="0" y="928" width="1629" height="1" fill="#000"/>
<rect x="0" y="582" width="1629" height="1" fill="#fff"/>
<rect x="0" y="767" width="1629" height="1" fill="#fff"/>
<rect x="1674" y="26" width="1" height="921" fill="#e3e3e3"/>
<g class="pl" shape-rendering="auto">
<rect x="1629" y="50" width="2" height="1" fill="#000" shape-rendering="crispEdges"/>
<text x="1634.5" y="53.8">1.32710</text>
<rect x="1629" y="82" width="2" height="1" fill="#000" shape-rendering="crispEdges"/>
<text x="1634.5" y="85.8">1.32525</text>
<rect x="1629" y="115" width="2" height="1" fill="#000" shape-rendering="crispEdges"/>
<text x="1634.5" y="118.8">1.32335</text>
<rect x="1629" y="149" width="2" height="1" fill="#000" shape-rendering="crispEdges"/>
<text x="1634.5" y="152.8">1.32145</text>
<rect x="1629" y="181" width="2" height="1" fill="#000" shape-rendering="crispEdges"/>
<text x="1634.5" y="184.8">1.31960</text>
<rect x="1629" y="214" width="2" height="1" fill="#000" shape-rendering="crispEdges"/>
<text x="1634.5" y="217.8">1.31770</text>
<rect x="1629" y="248" width="2" height="1" fill="#000" shape-rendering="crispEdges"/>
<text x="1634.5" y="251.8">1.31580</text>
<rect x="1629" y="281" width="2" height="1" fill="#000" shape-rendering="crispEdges"/>
<text x="1634.5" y="284.8">1.31390</text>
<rect x="1629" y="313" width="2" height="1" fill="#000" shape-rendering="crispEdges"/>
<text x="1634.5" y="316.8">1.31205</text>
<rect x="1629" y="347" width="2" height="1" fill="#000" shape-rendering="crispEdges"/>
<text x="1634.5" y="350.8">1.31015</text>
<rect x="1629" y="380" width="2" height="1" fill="#000" shape-rendering="crispEdges"/>
<text x="1634.5" y="383.8">1.30825</text>
<rect x="1629" y="413" width="2" height="1" fill="#000" shape-rendering="crispEdges"/>
<text x="1634.5" y="416.8">1.30635</text>
<rect x="1629" y="446" width="2" height="1" fill="#000" shape-rendering="crispEdges"/>
<text x="1634.5" y="449.8">1.30450</text>
<rect x="1629" y="479" width="2" height="1" fill="#000" shape-rendering="crispEdges"/>
<text x="1634.5" y="482.8">1.30260</text>
<rect x="1629" y="512" width="2" height="1" fill="#000" shape-rendering="crispEdges"/>
<text x="1634.5" y="515.8">1.30070</text>
<rect x="1629" y="545" width="2" height="1" fill="#000" shape-rendering="crispEdges"/>
<text x="1634.5" y="548.8">1.29885</text>
<rect x="1629" y="578" width="2" height="1" fill="#000" shape-rendering="crispEdges"/>
<text x="1634.5" y="581.8">1.29695</text>
<rect x="1630" y="240" width="41" height="11" fill="#ff0000" shape-rendering="crispEdges"/>
<text class="tag" x="1634.5" y="249.3">1.31592</text>
<rect x="1630" y="284" width="41" height="11" fill="#ff0000" shape-rendering="crispEdges"/>
<text class="tag" x="1634.5" y="293.3">1.31341</text>
<rect x="1630" y="323" width="41" height="11" fill="#32cd32" shape-rendering="crispEdges"/>
<text class="tag" x="1634.5" y="332.3">1.31118</text>
<rect x="1630" y="352" width="41" height="11" fill="#000000" shape-rendering="crispEdges"/>
<text class="tag" x="1634.5" y="361.3">1.30950</text>
<rect x="1630" y="394" width="41" height="11" fill="#0000ff" shape-rendering="crispEdges"/>
<text class="tag" x="1634.5" y="403.3">1.30713</text>
<rect x="1630" y="433" width="41" height="11" fill="#0000ff" shape-rendering="crispEdges"/>
<text class="tag" x="1634.5" y="442.3">1.30490</text>
<rect x="1623.5" y="244.5" width="4" height="4" fill="#fff" stroke="#ff0000" stroke-width="1" shape-rendering="crispEdges"/>
<rect x="1623.5" y="288.5" width="4" height="4" fill="#fff" stroke="#ff0000" stroke-width="1" shape-rendering="crispEdges"/>
<rect x="1623.5" y="327.5" width="4" height="4" fill="#fff" stroke="#32cd32" stroke-width="1" shape-rendering="crispEdges"/>
<rect x="1623.5" y="398.5" width="4" height="4" fill="#fff" stroke="#0000ff" stroke-width="1" shape-rendering="crispEdges"/>
<rect x="1623.5" y="437.5" width="4" height="4" fill="#fff" stroke="#0000ff" stroke-width="1" shape-rendering="crispEdges"/>
</g>
</g>
<g id="macd">
<g clip-path="url(#c2)">
<rect x="0" y="641" width="2" height="1" fill="#c0c0c0"/>
<rect x="16" y="632" width="2" height="9" fill="#c0c0c0"/>
<rect x="32" y="630" width="2" height="11" fill="#c0c0c0"/>
<rect x="48" y="631" width="2" height="10" fill="#c0c0c0"/>
<rect x="64" y="630" width="2" height="11" fill="#c0c0c0"/>
<rect x="80" y="636" width="2" height="5" fill="#c0c0c0"/>
<rect x="96" y="640" width="2" height="1" fill="#c0c0c0"/>
<rect x="112" y="633" width="2" height="8" fill="#c0c0c0"/>
<rect x="128" y="637" width="2" height="4" fill="#c0c0c0"/>
<rect x="144" y="627" width="2" height="14" fill="#c0c0c0"/>
<rect x="160" y="639" width="2" height="2" fill="#c0c0c0"/>
<rect x="176" y="641" width="2" height="1" fill="#c0c0c0"/>
<rect x="192" y="641" width="2" height="9" fill="#c0c0c0"/>
<rect x="208" y="641" width="2" height="22" fill="#c0c0c0"/>
<rect x="224" y="641" width="2" height="40" fill="#c0c0c0"/>
<rect x="240" y="641" width="2" height="60" fill="#c0c0c0"/>
<rect x="256" y="641" width="2" height="75" fill="#c0c0c0"/>
<rect x="272" y="641" width="2" height="84" fill="#c0c0c0"/>
<rect x="288" y="641" width="2" height="98" fill="#c0c0c0"/>
<rect x="304" y="641" width="2" height="92" fill="#c0c0c0"/>
<rect x="320" y="641" width="2" height="102" fill="#c0c0c0"/>
<rect x="336" y="641" width="2" height="113" fill="#c0c0c0"/>
<rect x="352" y="641" width="2" height="117" fill="#c0c0c0"/>
<rect x="368" y="641" width="2" height="116" fill="#c0c0c0"/>
<rect x="384" y="641" width="2" height="108" fill="#c0c0c0"/>
<rect x="400" y="641" width="2" height="91" fill="#c0c0c0"/>
<rect x="416" y="641" width="2" height="70" fill="#c0c0c0"/>
<rect x="432" y="641" width="2" height="58" fill="#c0c0c0"/>
<rect x="448" y="641" width="2" height="58" fill="#c0c0c0"/>
<rect x="464" y="641" width="2" height="57" fill="#c0c0c0"/>
<rect x="480" y="641" width="2" height="60" fill="#c0c0c0"/>
<rect x="496" y="641" width="2" height="68" fill="#c0c0c0"/>
<rect x="512" y="641" width="2" height="70" fill="#c0c0c0"/>
<rect x="528" y="641" width="2" height="52" fill="#c0c0c0"/>
<rect x="544" y="641" width="2" height="37" fill="#c0c0c0"/>
<rect x="560" y="641" width="2" height="23" fill="#c0c0c0"/>
<rect x="576" y="641" width="2" height="1" fill="#c0c0c0"/>
<rect x="592" y="629" width="2" height="12" fill="#c0c0c0"/>
<rect x="608" y="616" width="2" height="25" fill="#c0c0c0"/>
<rect x="624" y="609" width="2" height="32" fill="#c0c0c0"/>
<rect x="640" y="602" width="2" height="39" fill="#c0c0c0"/>
<rect x="656" y="598" width="2" height="43" fill="#c0c0c0"/>
<rect x="672" y="593" width="2" height="48" fill="#c0c0c0"/>
<rect x="688" y="600" width="2" height="41" fill="#c0c0c0"/>
<rect x="704" y="618" width="2" height="23" fill="#c0c0c0"/>
<rect x="720" y="631" width="2" height="10" fill="#c0c0c0"/>
<rect x="736" y="641" width="2" height="3" fill="#c0c0c0"/>
<rect x="752" y="641" width="2" height="8" fill="#c0c0c0"/>
<rect x="768" y="641" width="2" height="12" fill="#c0c0c0"/>
<rect x="784" y="641" width="2" height="20" fill="#c0c0c0"/>
<rect x="800" y="641" width="2" height="39" fill="#c0c0c0"/>
<rect x="816" y="641" width="2" height="48" fill="#c0c0c0"/>
<rect x="832" y="641" width="2" height="53" fill="#c0c0c0"/>
<rect x="848" y="641" width="2" height="51" fill="#c0c0c0"/>
<rect x="864" y="641" width="2" height="50" fill="#c0c0c0"/>
<rect x="880" y="641" width="2" height="51" fill="#c0c0c0"/>
<rect x="896" y="641" width="2" height="52" fill="#c0c0c0"/>
<rect x="912" y="641" width="2" height="48" fill="#c0c0c0"/>
<rect x="928" y="641" width="2" height="45" fill="#c0c0c0"/>
<rect x="944" y="641" width="2" height="39" fill="#c0c0c0"/>
<rect x="960" y="641" width="2" height="35" fill="#c0c0c0"/>
<rect x="976" y="641" width="2" height="34" fill="#c0c0c0"/>
<rect x="992" y="641" width="2" height="36" fill="#c0c0c0"/>
<rect x="1008" y="641" width="2" height="35" fill="#c0c0c0"/>
<rect x="1024" y="641" width="2" height="34" fill="#c0c0c0"/>
<rect x="1040" y="641" width="2" height="32" fill="#c0c0c0"/>
<rect x="1056" y="641" width="2" height="28" fill="#c0c0c0"/>
<rect x="1072" y="641" width="2" height="21" fill="#c0c0c0"/>
<rect x="1088" y="641" width="2" height="13" fill="#c0c0c0"/>
<rect x="1104" y="641" width="2" height="7" fill="#c0c0c0"/>
<rect x="1120" y="641" width="2" height="1" fill="#c0c0c0"/>
<rect x="1136" y="637" width="2" height="4" fill="#c0c0c0"/>
<rect x="1152" y="633" width="2" height="8" fill="#c0c0c0"/>
<rect x="1168" y="635" width="2" height="6" fill="#c0c0c0"/>
<rect x="1184" y="638" width="2" height="3" fill="#c0c0c0"/>
<rect x="1200" y="641" width="2" height="2" fill="#c0c0c0"/>
<rect x="1216" y="641" width="2" height="7" fill="#c0c0c0"/>
<rect x="1232" y="641" width="2" height="6" fill="#c0c0c0"/>
<rect x="1248" y="641" width="2" height="8" fill="#c0c0c0"/>
<rect x="1264" y="641" width="2" height="4" fill="#c0c0c0"/>
<rect x="1280" y="641" width="2" height="1" fill="#c0c0c0"/>
<rect x="1296" y="641" width="2" height="2" fill="#c0c0c0"/>
<rect x="1312" y="640" width="2" height="1" fill="#c0c0c0"/>
<rect x="1328" y="637" width="2" height="4" fill="#c0c0c0"/>
<rect x="1344" y="633" width="2" height="8" fill="#c0c0c0"/>
<rect x="1360" y="629" width="2" height="12" fill="#c0c0c0"/>
<rect x="1376" y="626" width="2" height="15" fill="#c0c0c0"/>
<rect x="1392" y="625" width="2" height="16" fill="#c0c0c0"/>
<rect x="1408" y="625" width="2" height="16" fill="#c0c0c0"/>
<rect x="1424" y="625" width="2" height="16" fill="#c0c0c0"/>
<polyline points="1.5,658.0 17.5,652.0 33.5,648.0 49.5,644.6 65.5,641.4 81.5,638.4 97.5,637.0 113.5,635.0 129.5,634.4 145.5,633.4 161.5,634.2 177.5,635.6 193.5,637.0 209.5,641.0 225.5,644.4 241.5,652.6 257.5,661.0 273.5,671.0 289.5,683.0 305.5,693.6 321.5,705.0 337.5,716.6 353.5,727.4 369.5,735.4 385.5,741.4 401.5,742.4 417.5,741.4 433.5,736.6 449.5,733.0 465.5,728.6 481.5,722.0 497.5,716.6 513.5,712.0 529.5,705.4 545.5,699.0 561.5,694.4 577.5,687.4 593.5,680.4 609.5,671.6 625.5,661.0 641.5,649.0 657.5,637.0 673.5,625.4 689.5,617.4 705.5,613.0 721.5,611.6 737.5,612.4 753.5,616.6 769.5,621.0 785.5,627.4 801.5,636.0 817.5,647.4 833.5,657.4 849.5,665.0 865.5,672.6 881.5,677.0 897.5,682.4 913.5,686.4 929.5,689.0 945.5,689.0 961.5,687.0 977.5,685.4 993.5,683.4 1009.5,682.0 1025.5,680.4 1041.5,677.0 1057.5,675.4 1073.5,673.4 1089.5,670.4 1105.5,666.4 1121.5,663.0 1137.5,659.4 1153.5,654.0 1169.5,650.0 1185.5,646.0 1201.5,643.6 1217.5,642.4 1233.5,641.4 1249.5,641.4 1265.5,641.4 1281.5,642.4 1297.5,643.4 1313.5,643.4 1329.5,643.4 1345.5,642.4 1361.5,640.6 1377.5,638.4 1393.5,636.0 1409.5,633.4 1425.5,631.4" stroke="#ff0000" stroke-width="1" fill="none" stroke-dasharray="3,3"/>
</g>
<g class="ax" shape-rendering="auto">
<rect x="1629" y="585" width="2" height="1" fill="#000" shape-rendering="crispEdges"/>
<rect x="1629" y="641" width="2" height="1" fill="#000" shape-rendering="crispEdges"/>
<rect x="1629" y="764" width="2" height="1" fill="#000" shape-rendering="crispEdges"/>
<text x="1632" y="594">0.002183</text>
<text x="1632" y="645">0.00</text>
<text x="1632" y="763">-0.004861</text>
<text x="5" y="596">MACD(12,26,9) 0.000601 0.000366</text>
</g></g>
<g id="rsi">
<g clip-path="url(#c3)">
<line x1="2" y1="801.5" x2="1628" y2="801.5" stroke="#c0c0c0" stroke-width="1" stroke-dasharray="3,3"/>
<line x1="2" y1="848.5" x2="1628" y2="848.5" stroke="#c0c0c0" stroke-width="1" stroke-dasharray="3,3"/>
<line x1="2" y1="904.5" x2="1628" y2="904.5" stroke="#c0c0c0" stroke-width="1" stroke-dasharray="3,3"/>
<polyline points="1.5,844.4 17.5,833.6 33.5,844.0 49.5,848.4 65.5,845.4 81.5,855.4 97.5,853.6 113.5,839.4 129.5,852.4 145.5,836.6 161.5,859.4 177.5,850.4 193.5,855.4 209.5,862.4 225.5,868.4 241.5,872.4 257.5,872.4 273.5,869.4 289.5,875.4 305.5,856.4 321.5,867.2 337.5,870.4 353.5,867.6 369.5,864.4 385.5,857.0 401.5,848.4 417.5,843.6 433.5,848.6 449.5,856.2 465.5,856.2 481.5,859.4 497.5,865.4 513.5,860.4 529.5,842.4 545.5,843.4 561.5,841.4 577.5,833.4 593.5,838.4 609.5,835.4 625.5,839.4 641.5,837.4 657.5,838.4 673.5,835.4 689.5,849.0 705.5,860.4 721.5,857.4 737.5,859.4 753.5,855.6 769.5,854.4 785.5,860.4 801.5,870.4 817.5,865.0 833.5,862.4 849.5,855.4 865.5,857.4 881.5,859.4 897.5,859.4 913.5,854.4 929.5,855.4 945.5,849.4 961.5,852.4 977.5,855.4 993.5,858.4 1009.5,856.4 1025.5,855.4 1041.5,855.4 1057.5,850.4 1073.5,844.4 1089.5,839.4 1105.5,841.4 1121.5,840.4 1137.5,839.4 1153.5,839.4 1169.5,850.4 1185.5,855.4 1201.5,858.4 1217.5,860.4 1233.5,849.4 1249.5,855.4 1265.5,842.4 1281.5,845.4 1297.5,849.4 1313.5,846.0 1329.5,841.0 1345.5,838.0 1361.5,835.0 1377.5,837.4 1393.5,840.0 1409.5,841.4 1425.5,842.4" stroke="#1e90ff" stroke-width="1" fill="none" />
</g>
<g class="ax" shape-rendering="auto">
<rect x="1629" y="770" width="2" height="1" fill="#000" shape-rendering="crispEdges"/>
<rect x="1629" y="927" width="2" height="1" fill="#000" shape-rendering="crispEdges"/>
<text x="1632" y="779">100</text>
<text x="1632" y="804.5">80</text>
<text x="1632" y="851.5">50</text>
<text x="1632" y="908">15</text>
<text x="1632" y="925">0</text>
<text x="5" y="781">RSI(14) 54.1387</text>
<rect x="1" y="929" width="1" height="3" fill="#000" shape-rendering="crispEdges"/>
<text x="1.5" y="941">26 Mar 2019</text>
<rect x="65" y="929" width="1" height="3" fill="#000" shape-rendering="crispEdges"/>
<text x="65.5" y="941">26 Mar 20:00</text>
<rect x="129" y="929" width="1" height="3" fill="#000" shape-rendering="crispEdges"/>
<text x="129.5" y="941">27 Mar 12:00</text>
<rect x="193" y="929" width="1" height="3" fill="#000" shape-rendering="crispEdges"/>
<text x="193.5" y="941">28 Mar 04:00</text>
<rect x="257" y="929" width="1" height="3" fill="#000" shape-rendering="crispEdges"/>
<text x="257.5" y="941">28 Mar 20:00</text>
<rect x="321" y="929" width="1" height="3" fill="#000" shape-rendering="crispEdges"/>
<text x="321.5" y="941">29 Mar 12:00</text>
<rect x="385" y="929" width="1" height="3" fill="#000" shape-rendering="crispEdges"/>
<text x="385.5" y="941">1 Apr 04:00</text>
<rect x="449" y="929" width="1" height="3" fill="#000" shape-rendering="crispEdges"/>
<text x="449.5" y="941">1 Apr 20:00</text>
<rect x="513" y="929" width="1" height="3" fill="#000" shape-rendering="crispEdges"/>
<text x="513.5" y="941">2 Apr 12:00</text>
<rect x="577" y="929" width="1" height="3" fill="#000" shape-rendering="crispEdges"/>
<text x="577.5" y="941">3 Apr 04:00</text>
<rect x="641" y="929" width="1" height="3" fill="#000" shape-rendering="crispEdges"/>
<text x="641.5" y="941">3 Apr 20:00</text>
<rect x="705" y="929" width="1" height="3" fill="#000" shape-rendering="crispEdges"/>
<text x="705.5" y="941">4 Apr 12:00</text>
<rect x="769" y="929" width="1" height="3" fill="#000" shape-rendering="crispEdges"/>
<text x="769.5" y="941">5 Apr 04:00</text>
<rect x="833" y="929" width="1" height="3" fill="#000" shape-rendering="crispEdges"/>
<text x="833.5" y="941">7 Apr 23:00</text>
<rect x="897" y="929" width="1" height="3" fill="#000" shape-rendering="crispEdges"/>
<text x="897.5" y="941">8 Apr 12:00</text>
<rect x="961" y="929" width="1" height="3" fill="#000" shape-rendering="crispEdges"/>
<text x="961.5" y="941">9 Apr 04:00</text>
<rect x="1025" y="929" width="1" height="3" fill="#000" shape-rendering="crispEdges"/>
<text x="1025.5" y="941">9 Apr 20:00</text>
<rect x="1089" y="929" width="1" height="3" fill="#000" shape-rendering="crispEdges"/>
<text x="1089.5" y="941">10 Apr 12:00</text>
<rect x="1153" y="929" width="1" height="3" fill="#000" shape-rendering="crispEdges"/>
<text x="1153.5" y="941">11 Apr 04:00</text>
<rect x="1217" y="929" width="1" height="3" fill="#000" shape-rendering="crispEdges"/>
<text x="1217.5" y="941">11 Apr 20:00</text>
<rect x="1281" y="929" width="1" height="3" fill="#000" shape-rendering="crispEdges"/>
<text x="1281.5" y="941">12 Apr 12:00</text>
<rect x="1345" y="929" width="1" height="3" fill="#000" shape-rendering="crispEdges"/>
<text x="1345.5" y="941">15 Apr 04:00</text>
<rect x="1409" y="929" width="1" height="3" fill="#000" shape-rendering="crispEdges"/>
<text x="1409.5" y="941">15 Apr 20:00</text>
</g></g>
<g id="panel" shape-rendering="auto">
<path d="M4.5,38.5 L10.5,38.5 L7.5,35 Z" fill="#000"/>
<text class="ax" x="16" y="40" >GBPUSD-,H4&#160;&#160;1.30959 1.31000 1.30950 1.30950</text>
<rect x="3" y="46" width="222" height="68" fill="#fff"/>
<g shape-rendering="crispEdges">
<rect x="4" y="48" width="52" height="25" fill="url(#gt)"/>
<rect x="4" y="72" width="109" height="40" fill="url(#gb)"/>
<path d="M4.5,111.5 V48.5 H55.5 V72.5 H112.5 V111.5 Z" fill="none" stroke="#b40a0a" stroke-width="1"/>
<rect x="8" y="71" width="44" height="1" fill="#8e0000"/><rect x="8" y="72" width="44" height="1" fill="#f26a6a"/>
<rect x="171" y="48" width="52" height="25" fill="url(#gt)"/>
<rect x="115" y="72" width="108" height="40" fill="url(#gb)"/>
<path d="M115.5,111.5 V72.5 H171.5 V48.5 H222.5 V111.5 Z" fill="none" stroke="#b40a0a" stroke-width="1"/>
<rect x="175" y="71" width="44" height="1" fill="#8e0000"/><rect x="175" y="72" width="44" height="1" fill="#f26a6a"/>
<rect x="58.5" y="48.5" width="110" height="21" fill="#fff" stroke="#a9acb4" stroke-width="1"/>
<rect x="59" y="49" width="20" height="20" fill="#e9e9e9"/><rect x="79" y="49" width="1" height="20" fill="#a9acb4"/>
<rect x="148" y="49" width="20" height="20" fill="#e9e9e9"/><rect x="147" y="49" width="1" height="20" fill="#a9acb4"/>
</g>
<path d="M66,57 L71.2,57 L68.6,60 Z" fill="#000"/>
<path d="M155,60 L160.2,60 L157.6,57 Z" fill="#000"/>
<text x="16.2" y="63.8" style="fill:#fff;font-size:11.6px;letter-spacing:-0.55px">SELL</text>
<text x="184.8" y="63.8" style="fill:#fff;font-size:11.6px;letter-spacing:-0.75px">BUY</text>
<text x="143.6" y="63.6" text-anchor="end" style="fill:#101828;font-size:12px;letter-spacing:-0.3px">1.00</text>
<text x="24.6" y="103.1" style="fill:#fff;font-size:12.2px;font-weight:bold;letter-spacing:-0.25px">1.30</text>
<text x="51" y="103.1" style="fill:#fff;font-size:32.6px;letter-spacing:-2px">95</text>
<text x="90.6" y="86.8" style="fill:#fff;font-size:12.6px;font-weight:bold">0</text>
<text x="134.8" y="103.1" style="fill:#fff;font-size:12.2px;font-weight:bold;letter-spacing:-0.25px">1.30</text>
<text x="162.2" y="103.1" style="fill:#fff;font-size:32.6px;letter-spacing:-2px">98</text>
<text x="202.2" y="86.8" style="fill:#fff;font-size:12.6px;font-weight:bold">1</text>
</g>
</svg></body></html>
